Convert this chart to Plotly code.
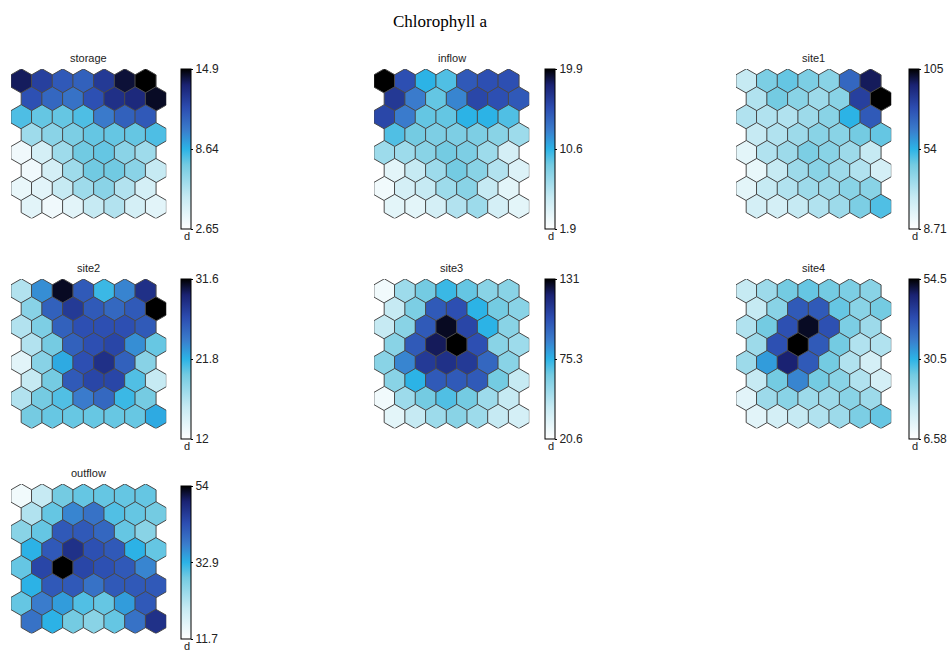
import math
import plotly.graph_objects as go

W, H = 949, 655

# ---------------- data (SOM component planes, 8 rows x 7 columns) ----------------
names = ["storage", "inflow", "site1", "site2", "site3", "site4", "outflow"]

storage = [
    [13.9, 12.45, 11.5, 11.2, 12.7, 14.3, 14.9],
    [11.8, 11.0, 10.6, 11.8, 13.1, 13.4, 14.5],
    [8.2, 7.8, 7.8, 8.2, 10.3, 11.2, 11.5],
    [6.3, 6.9, 7.3, 7.8, 7.8, 7.8, 8.2],
    [3.3, 4.5, 6.3, 7.6, 7.8, 6.9, 6.3],
    [3.3, 4.5, 6.3, 7.6, 7.6, 6.9, 5.1],
    [3.6, 3.9, 5.1, 6.3, 6.9, 5.7, 4.5],
    [3.9, 3.3, 3.9, 5.1, 5.7, 4.5, 3.9],
]
inflow = [
    [19.9, 15.4, 10.9, 10.0, 14.9, 15.4, 15.4],
    [16.7, 13.1, 9.5, 12.7, 15.9, 15.4, 14.9],
    [15.9, 13.1, 9.5, 9.5, 10.9, 10.9, 10.0],
    [10.0, 9.1, 8.7, 8.7, 8.7, 8.2, 7.3],
    [7.3, 7.3, 8.2, 9.1, 8.7, 7.3, 4.6],
    [3.7, 5.5, 7.3, 9.1, 8.2, 6.4, 4.1],
    [2.8, 4.6, 5.5, 7.3, 8.2, 5.5, 3.7],
    [3.7, 3.7, 4.6, 6.4, 7.3, 4.6, 3.7],
]
site1 = [
    [28.0, 45.3, 49.2, 45.3, 42.4, 74.2, 97.3],
    [32.8, 47.2, 42.4, 37.6, 42.4, 85.7, 105.0],
    [32.8, 32.8, 32.8, 37.6, 42.4, 56.9, 78.0],
    [28.0, 32.8, 37.6, 42.4, 42.4, 47.2, 49.2],
    [18.3, 32.8, 37.6, 45.3, 42.4, 37.6, 28.0],
    [16.4, 28.0, 37.6, 42.4, 37.6, 32.8, 23.2],
    [18.3, 28.0, 32.8, 37.6, 37.6, 42.4, 42.4],
    [23.2, 23.2, 28.0, 32.8, 37.6, 45.3, 52.0],
]
site2 = [
    [16.9, 23.4, 31.0, 26.1, 21.4, 23.8, 28.7],
    [18.9, 25.7, 28.1, 26.1, 25.3, 26.1, 31.6],
    [16.9, 19.4, 25.7, 26.7, 26.7, 26.7, 26.1],
    [16.9, 19.8, 25.7, 26.7, 27.3, 23.4, 20.2],
    [14.0, 18.9, 22.2, 26.7, 28.7, 25.7, 18.9],
    [15.9, 19.8, 26.1, 27.3, 27.3, 20.8, 15.9],
    [16.9, 19.8, 20.8, 24.2, 25.3, 21.4, 19.8],
    [19.8, 20.2, 20.2, 20.2, 20.2, 20.2, 22.2],
]
site3 = [
    [26.1, 53.7, 64.8, 73.6, 67.0, 59.2, 59.2],
    [42.7, 62.6, 100.1, 103.4, 75.8, 64.8, 59.2],
    [42.7, 59.2, 100.1, 127.7, 106.7, 75.8, 59.2],
    [59.2, 100.1, 122.2, 131.0, 103.4, 59.2, 53.7],
    [59.2, 86.8, 111.1, 114.4, 111.1, 95.7, 59.2],
    [59.2, 75.8, 100.1, 100.1, 100.1, 64.8, 42.7],
    [26.1, 53.7, 64.8, 70.3, 64.8, 53.7, 42.7],
    [31.6, 42.7, 53.7, 59.2, 53.7, 42.7, 37.2],
]
site4 = [
    [16.2, 21.0, 25.7, 26.7, 25.7, 24.8, 23.3],
    [16.2, 23.3, 41.1, 41.1, 26.7, 23.3, 25.7],
    [18.6, 25.7, 42.5, 53.0, 42.5, 24.8, 21.0],
    [21.0, 42.5, 54.5, 41.1, 25.7, 18.6, 18.6],
    [21.0, 32.9, 49.7, 41.1, 25.7, 18.6, 13.8],
    [16.2, 25.7, 35.3, 25.7, 23.3, 18.6, 13.8],
    [11.4, 21.0, 23.3, 21.0, 21.0, 23.3, 21.0],
    [11.4, 13.8, 16.2, 18.6, 21.0, 24.8, 26.7],
]
outflow = [
    [13.8, 20.2, 28.6, 29.5, 29.5, 29.5, 29.5],
    [22.3, 29.5, 37.1, 39.2, 30.7, 29.5, 28.6],
    [26.5, 29.5, 42.2, 42.2, 40.5, 29.5, 26.5],
    [32.9, 42.2, 47.7, 43.4, 42.2, 32.9, 29.5],
    [29.5, 44.7, 54.0, 44.7, 43.4, 42.2, 37.1],
    [32.9, 42.2, 42.2, 39.2, 42.2, 42.2, 42.2],
    [29.5, 37.9, 35.0, 30.7, 29.5, 35.0, 42.2],
    [39.2, 32.9, 28.6, 26.5, 29.5, 39.2, 47.7],
]
planes = [storage, inflow, site1, site2, site3, site4, outflow]

cb_min = [2.65, 1.9, 8.71, 12.0, 20.6, 6.58, 11.7]
cb_max = [14.9, 19.9, 105.0, 31.6, 131.0, 54.5, 54.0]
tick_min = ["2.65", "1.9", "8.71", "12", "20.6", "6.58", "11.7"]
tick_mid = ["8.64", "10.6", "54", "21.8", "75.3", "30.5", "32.9"]
tick_max = ["14.9", "19.9", "105", "31.6", "131", "54.5", "54"]

# ---------------- styling / layout ----------------
colorscale = [
    [0.00, "#ffffff"],
    [0.20, "#c6eaf3"],
    [0.40, "#74cbe2"],
    [0.50, "#2cb3e6"],
    [0.62, "#3a7ccc"],
    [0.76, "#2c4cb0"],
    [0.90, "#1a2272"],
    [1.00, "#000000"],
]

HEXW = 20.7                       # hex width in px
R = HEXW / math.sqrt(3)           # hex radius in px
NROWS, NCOLS = 8, 7
SQ = math.sqrt(3) / 2

# panel top-left pixel positions (hex grid) and colorbar left / top / length
panel_x = [11, 374, 736, 11, 374, 736, 11]
panel_y = [69, 69, 69, 279, 279, 279, 484]
cbar_x = [181, 545, 909, 181, 545, 909, 181]
cbar_y = [69, 69, 69, 279, 279, 279, 486]
cbar_len = [160, 160, 160, 160, 160, 160, 153]

xr = [-0.5, NCOLS]
yr = [-(NROWS - 1) * SQ - 1 / math.sqrt(3), 1 / math.sqrt(3)]
pw = (xr[1] - xr[0]) * HEXW
ph = (yr[1] - yr[0]) * HEXW

fig = go.Figure()
annotations = []
layout = dict(
    width=W, height=H,
    margin=dict(l=0, r=0, t=0, b=0),
    paper_bgcolor="white", plot_bgcolor="white",
    showlegend=False,
)

for i, (name, grid) in enumerate(zip(names, planes)):
    k = "" if i == 0 else str(i + 1)
    xs, ys, vs = [], [], []
    for r in range(NROWS):
        for c in range(NCOLS):
            xs.append(c + 0.5 * (r % 2))
            ys.append(-r * SQ)
            vs.append(grid[r][c])
    fig.add_trace(go.Scatter(
        x=xs, y=ys, mode="markers",
        xaxis="x" + k, yaxis="y" + k,
        marker=dict(symbol="hexagon", size=2 * R + 0.4, color=vs,
                    coloraxis="coloraxis" + k,
                    line=dict(color="#4a4a4a", width=1)),
        hoverinfo="skip",
    ))
    x0, y0 = panel_x[i], panel_y[i]
    layout["xaxis" + k] = dict(domain=[x0 / W, (x0 + pw) / W], range=xr,
                               visible=False, fixedrange=True)
    layout["yaxis" + k] = dict(domain=[1 - (y0 + ph) / H, 1 - y0 / H], range=yr,
                               visible=False, fixedrange=True)
    lo, hi = cb_min[i], cb_max[i]
    layout["coloraxis" + k] = dict(
        colorscale=colorscale, cmin=lo, cmax=hi,
        colorbar=dict(
            x=cbar_x[i] / W, xanchor="left", xpad=0,
            y=1 - cbar_y[i] / H, yanchor="top", ypad=0,
            len=cbar_len[i], lenmode="pixels",
            thickness=10, thicknessmode="pixels",
            outlinewidth=1, outlinecolor="#000000",
            tickvals=[lo, (lo + hi) / 2, hi],
            ticktext=[tick_min[i], tick_mid[i], tick_max[i]],
            ticks="outside", ticklen=2, tickcolor="#000000",
            tickfont=dict(family="Liberation Sans, Arial", size=12, color="#222222"),
        ),
    )
    annotations.append(dict(
        text=name, xref="paper", yref="paper",
        x=(x0 + pw / 2) / W, y=1 - (y0 - 11) / H,
        xanchor="center", yanchor="middle", showarrow=False,
        font=dict(family="Liberation Sans, Arial", size=11, color="#222222"),
    ))
    annotations.append(dict(
        text="d", xref="paper", yref="paper",
        x=(cbar_x[i] + 1) / W, y=1 - (cbar_y[i] + cbar_len[i] + 7) / H,
        xanchor="left", yanchor="middle", showarrow=False,
        font=dict(family="Liberation Sans, Arial", size=11, color="#222222"),
    ))

annotations.append(dict(
    text="Chlorophyll a", xref="paper", yref="paper",
    x=440 / W, y=1 - 21 / H, xanchor="center", yanchor="middle",
    showarrow=False,
    font=dict(family="Liberation Serif, Times New Roman, serif", size=17, color="#000000"),
))
layout["annotations"] = annotations

fig.update_layout(**layout)
fig.write_html("out.html")
